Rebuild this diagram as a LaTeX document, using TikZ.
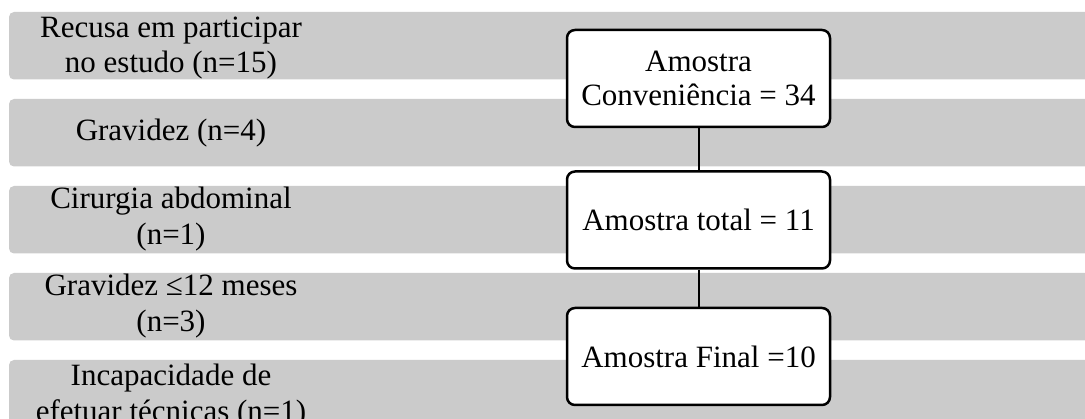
\documentclass[tikz,border=0pt]{standalone}
\usepackage{fontspec}
\setmainfont{Liberation Serif}
\definecolor{bandgray}{RGB}{203,203,203}
\begin{document}
\begin{tikzpicture}[x=1pt,y=-1pt,
  band/.style={fill=bandgray, rounded corners=5pt},
  lbl/.style={align=center, inner sep=0pt, font=\fontsize{31}{35.5}\selectfont},
  stepbox/.style={draw, fill=white, line width=2.5pt, rounded corners=8pt,
    minimum width=263pt, minimum height=97pt, align=center, inner sep=0pt,
    font=\fontsize{31}{34}\selectfont},
  link/.style={line width=2pt}]
\useasboundingbox (0,0) rectangle (1085,419);
\clip (0,0) rectangle (1085,419);
% grey bands
\foreach \t in {12,99,186,273,360}{
  \fill[band] (9,\t) rectangle (1100,\t+67.5);
}
% band labels
\node[lbl] (r1) at (171,48) {Recusa em participar\\no estudo (n=15)};
\node[lbl] (r2) at (171,133) {Gravidez (n=4)};
\node[lbl] (r3) at (171,219) {Cirurgia abdominal\\(n=1)};
\node[lbl] (r4) at (171,306) {Gravidez ≤12 meses\\(n=3)};
\node[lbl] (r5) at (171,396) {Incapacidade de\\efetuar técnicas (n=1)};
% flow boxes
\node[stepbox] (a1) at (698.5,78.5) {Amostra\\Conveniência = 34};
\node[stepbox] (a2) at (698.5,220) {Amostra total = 11};
\node[stepbox] (a3) at (698.5,356.5) {Amostra Final =10};
\draw[link] (a1.south) -- (a2.north);
\draw[link] (a2.south) -- (a3.north);
\end{tikzpicture}
\end{document}
